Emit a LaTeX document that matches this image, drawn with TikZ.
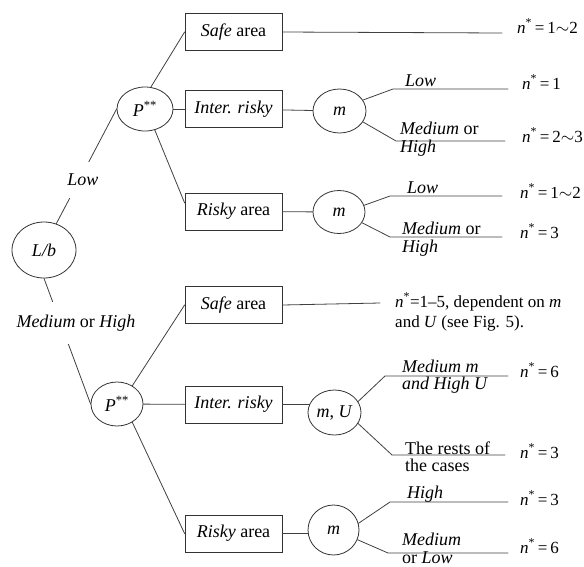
\documentclass[tikz,border=0pt]{standalone}
\usepackage{fontspec}
\setmainfont{Liberation Serif}
\usetikzlibrary{shapes.geometric, positioning}

\newcommand{\nres}[1]{\textit{n}\textsuperscript{*}\,=\,#1}

\begin{document}
\begin{tikzpicture}[x=1pt, y=-1pt, line cap=round,
    every node/.style={font=\fontsize{18}{18.5}\selectfont},
    bubble/.style={ellipse, draw=black!80, line width=0.8pt, inner sep=0pt},
    areabox/.style={draw=black!80, line width=0.8pt, minimum width=97pt, minimum height=37pt, inner sep=0pt},
    branch/.style={draw=black!75, line width=0.8pt},
    verdict/.style={anchor=base west, inner sep=0pt, font=\fontsize{17}{20}\selectfont},
    tag/.style={anchor=base west, align=left, inner sep=0pt}]
    \useasboundingbox (0,0) rectangle (584,566);

    %nodi di decisione
    \node[bubble, minimum width=64pt, minimum height=56pt] (lb) at (44,250) {\textit{L/b}};
    \node[bubble, minimum width=56pt, minimum height=44pt] (pa) at (145,109) {\textit{P}\textsuperscript{**}};
    \node[bubble, minimum width=52pt, minimum height=44pt] (pb) at (117,404) {\textit{P}\textsuperscript{**}};

    %caselle aree
    \node[areabox] (safea) at (233.5,32) {\textit{Safe} area};
    \node[areabox] (intera) at (233.5,109) {\textit{Inter. risky}};
    \node[areabox] (riskya) at (233.5,211.5) {\textit{Risky} area};
    \node[areabox] (safeb) at (233.5,305) {\textit{Safe} area};
    \node[areabox] (interb) at (233.5,404.5) {\textit{Inter. risky}};
    \node[areabox] (riskyb) at (233.5,533.5) {\textit{Risky} area};

    %nodi m e U
    \node[bubble, minimum width=53pt, minimum height=44pt] (ma) at (339.5,111) {\textit{m}};
    \node[bubble, minimum width=52pt, minimum height=43pt] (mb) at (339,212) {\textit{m}};
    \node[bubble, minimum width=53pt, minimum height=45pt] (mu) at (334.5,412.5) {\textit{m}, \textit{U}};
    \node[bubble, minimum width=51pt, minimum height=50pt] (mc) at (333.5,530) {\textit{m}};

    %rami L/b
    \draw[branch] (lb.65) -- (pa.west);
    \draw[branch] (lb.south) -- (pb.west);
    \node[fill=white, inner xsep=2pt, inner ysep=12pt] (low) at (83,180) {\textit{Low}};
    \node[fill=white, inner xsep=2pt, inner ysep=13pt] (medhigh) at (76,323) {\textit{Medium} or \textit{High}};

    %rami P**
    \draw[branch] (pa.75) -- (safea.west);
    \draw[branch] (pa) -- (intera);
    \draw[branch] (pa.-65) -- (riskya.170);
    \draw[branch] (pb.50) -- (safeb.west);
    \draw[branch] (pb) -- (interb);
    \draw[branch] (pb.-50) -- (riskyb.west);

    %aree -> m
    \draw[branch] (intera) -- (ma);
    \draw[branch] (riskya) -- (mb);
    \draw[branch] (interb.east) -- ([xshift=2pt]interb.east -| mu.west);
    \draw[branch] (riskyb.east) -- ([xshift=1pt]riskyb.east -| mc.west);

    %estremi liberi
    \coordinate (ea) at (502,33);
    \coordinate (eb) at (380,303);
    \coordinate (ma1) at (508,89);
    \coordinate (ma2) at (505,141);
    \coordinate (mb1) at (502,196);
    \coordinate (mb2) at (502,237);
    \coordinate (mu1) at (508,376);
    \coordinate (mu2) at (505,455);
    \coordinate (mc1) at (508,502);
    \coordinate (mc2) at (508,553);

    %safe area diretta
    \draw[branch] (safea.east) -- (ea);
    \draw[branch] (safeb.east) -- (eb);

    %rami m
    \draw[branch] (ma.25) -- (393,89) -- (ma1);
    \draw[branch] (ma.-25) -- (396,141) -- (ma2);
    \draw[branch] (mb.15) -- (390,196) -- (mb1);
    \draw[branch] (mb.-25) -- (390,237) -- (mb2);
    \draw[branch] (mu.25) -- (385,376) -- (mu1);
    \draw[branch] (mu.-25) -- (392,455) -- (mu2);
    \draw[branch] (mc.15) -- (390,502) -- (mc1);
    \draw[branch] (mc.-22) -- (388,553) -- (mc2);

    %etichette rami (base = ultima riga)
    \node[tag] (ta1) at (405,86) {\textit{Low}};
    \node[tag] (ta2) at (400,152.5) {\textit{Medium} or\\\textit{High}};
    \node[tag] (tb1) at (407,193.5) {\textit{Low}};
    \node[tag] (tb2) at (402,252.5) {\textit{Medium} or\\\textit{High}};
    \node[tag, font=\fontsize{18}{16.5}\selectfont] (tu1) at (402,389) {\textit{Medium m}\\\textit{and High U}};
    \node[tag, font=\fontsize{18}{17}\selectfont] (tu2) at (405,471) {The rests of\\the cases};
    \node[tag] (tc1) at (407,498) {\textit{High}};
    \node[tag, font=\fontsize{18}{18}\selectfont] (tc2) at (402,563) {\textit{Medium}\\or \textit{Low}};

    %risultati
    \node[verdict] (ra) at (517,33) {\nres{1$\sim$2}};
    \node[verdict, align=left] (rb) at (395,327) {\textit{n}\textsuperscript{*}=1--5, dependent on \textit{m}\\and \textit{U} (see Fig. 5).};
    \node[verdict] (ra1) at (522,89) {\nres{1}};
    \node[verdict] (ra2) at (522,142) {\nres{2$\sim$3}};
    \node[verdict] (rb1) at (520,198) {\nres{1$\sim$2}};
    \node[verdict] (rb2) at (520,238) {\nres{3}};
    \node[verdict] (ru1) at (520,377) {\nres{6}};
    \node[verdict] (ru2) at (520,458) {\nres{3}};
    \node[verdict] (rc1) at (520,505) {\nres{3}};
    \node[verdict] (rc2) at (520,553) {\nres{6}};
\end{tikzpicture}
\end{document}
